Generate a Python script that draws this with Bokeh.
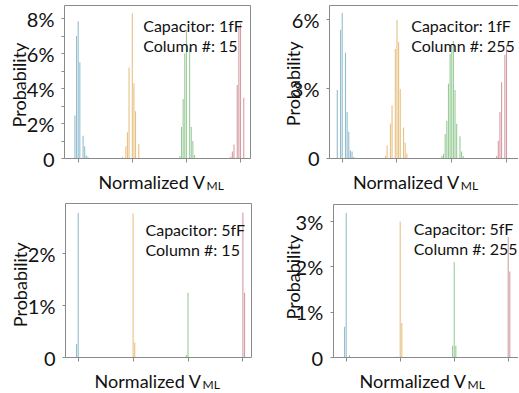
from math import pi
from bokeh.plotting import figure
from bokeh.models import Range1d, FixedTicker, Label, LinearAxis, ColumnDataSource
from bokeh.layouts import column, row
from bokeh.embed import file_html
from bokeh.resources import INLINE

# ---------------- data (probability in %, per histogram bin) ----------------
BIN_INDEX = list(range(-7, 8))   # bin index relative to each level centre
BIN_STEP = 0.03                  # bin spacing, in units of level spacing
LEVEL_POS = [0, 1, 2, 3]         # the four normalized V_ML levels
LEVEL_COLORS = ["#93bccf", "#e7c182", "#98cb96", "#d69ca2"]

# Capacitor 1fF, column 15
TL_L0 = [0, 0, 0, 0, 0, 2.46, 7.0, 7.85, 5.5, 0, 1.3, 0.7, 0.17, 0.08, 0]
TL_L1 = [0, 0.1, 0, 0.7, 1.5, 5.2, 0, 8.3, 4.3, 2.7, 0, 0.85, 0, 0, 0]
TL_L2 = [0, 0, 0, 0.15, 1.8, 3.4, 6.0, 7.35, 0, 6.3, 1.8, 1.0, 0.2, 0, 0]
TL_L3 = [0, 0.1, 0.4, 0.8, 0, 4.2, 7.55, 7.7, 0, 3.47, 0, 0, 0, 0, 0]
# Capacitor 1fF, column 255
TR_L0 = [0, 0, 0, 0, 2.95, 0, 5.56, 6.29, 0, 4.57, 2.0, 1.14, 0.33, 0.29, 0.05]
TR_L1 = [0.11, 0.55, 0, 1.49, 2.29, 0, 4.73, 5.99, 5.02, 3.0, 0, 1.33, 0.67, 0.19, 0]
TR_L2 = [0, 0.1, 0.19, 1.05, 1.62, 3.22, 4.51, 4.88, 5.07, 2.95, 1.49, 0, 0.95, 0.29, 0.1]
TR_L3 = [0, 0.1, 0.76, 2.0, 3.29, 0, 4.48, 4.88, 0, 0, 0, 0, 0, 0, 0]
# Capacitor 5fF, column 15
BL_L0 = [0, 0, 0, 0, 0, 0, 0.26, 2.79, 0, 0, 0, 0, 0, 0, 0]
BL_L1 = [0, 0, 0, 0, 0, 0, 0, 2.78, 0.29, 0, 0, 0, 0, 0, 0]
BL_L2 = [0, 0, 0, 0, 0, 0, 0.05, 1.25, 0, 0, 0, 0, 0, 0, 0]
BL_L3 = [0, 0, 0, 0, 0, 0, 0, 2.80, 1.25, 0, 0, 0, 0, 0, 0]
# Capacitor 5fF, column 255
BR_L0 = [0, 0, 0, 0, 0, 0, 0.68, 3.19, 0, 0.05, 0, 0, 0, 0, 0]
BR_L1 = [0, 0, 0, 0, 0, 0.03, 0, 3.0, 0.76, 0, 0, 0, 0, 0, 0]
BR_L2 = [0, 0, 0, 0, 0, 0, 0.26, 2.1, 0.26, 0, 0, 0, 0, 0, 0]
BR_L3 = [0, 0, 0, 0, 0, 0, 0, 2.66, 1.9, 0, 0, 0, 0, 0, 0]

TL_YTICKS, TL_YMINOR = [0, 2, 4, 6, 8], [1, 3, 5, 7]
TR_YTICKS, TR_YMINOR = [0, 3, 6], []
BL_YTICKS, BL_YMINOR = [0, 1, 2], []
BR_YTICKS, BR_YMINOR = [0, 1, 2, 3], []

TL_TEXT = ["Capacitor: 1fF", "Column #: 15"]
TR_TEXT = ["Capacitor: 1fF", "Column #: 255"]
BL_TEXT = ["Capacitor: 5fF", "Column #: 15"]
BR_TEXT = ["Capacitor: 5fF", "Column #: 255"]

FONT = "Lato"
AX = "#8a8a8a"
TXT = "#111111"


def pct(v):
    return "0" if v == 0 else f"{v}%"


def panel(levels, yticks, yminor, texts, W, H, g):
    """g: pixel geometry of the panel inside its canvas (layout only)."""
    x0, xu, z0, yu = g["x0"], g["xu"], g["zero"], g["yu"]

    def dx(px):
        return (px - x0) / xu

    def dy(py):
        return (z0 - py) / yu

    p = figure(width=W, height=H, output_backend="svg", toolbar_location=None,
               x_range=Range1d(dx(0), dx(W)), y_range=Range1d(dy(H), dy(0)),
               x_axis_location=None, y_axis_location=None,
               min_border_left=0, min_border_right=0,
               min_border_top=0, min_border_bottom=0,
               background_fill_color="white", border_fill_color="white")
    p.grid.visible = False
    p.outline_line_color = None

    for lvl, data, color in zip(LEVEL_POS, levels, LEVEL_COLORS):
        xs = [lvl + k * BIN_STEP for k, v in zip(BIN_INDEX, data) if v > 0]
        ys = [v for v in data if v > 0]
        src = ColumnDataSource(dict(x=xs, top=ys))
        p.vbar(x="x", top="top", bottom=0, width=0.02, source=src,
               fill_color=color, line_color=None)

    bx0 = dx(g["left"])
    bx1 = dx(g["right"]) if g["right"] is not None else dx(W)
    by1 = dy(g["top"])

    # bottom axis (at 0), ticks at the level centres, no labels
    xa = LinearAxis(fixed_location=0, bounds=(bx0, bx1),
                    ticker=FixedTicker(ticks=LEVEL_POS, minor_ticks=[]),
                    major_label_overrides={v: "" for v in LEVEL_POS},
                    major_label_text_font_size="1px",
                    axis_line_color=AX, major_tick_line_color=AX,
                    minor_tick_line_color=None,
                    major_tick_in=0, major_tick_out=4)
    p.add_layout(xa, "below")

    ya = LinearAxis(fixed_location=bx0, bounds=(0, by1),
                    ticker=FixedTicker(ticks=yticks, minor_ticks=yminor),
                    major_label_overrides={v: pct(v) for v in yticks},
                    major_label_text_font=FONT, major_label_text_font_size="20px",
                    major_label_text_color=TXT, major_label_standoff=7,
                    axis_line_color=AX, major_tick_line_color=AX,
                    minor_tick_line_color=AX,
                    major_tick_in=0, major_tick_out=3,
                    minor_tick_in=0, minor_tick_out=3)
    p.add_layout(ya, "left")

    top = LinearAxis(fixed_location=by1, bounds=(bx0, bx1),
                     ticker=FixedTicker(ticks=[], minor_ticks=[]),
                     axis_line_color=AX, major_tick_line_color=None,
                     minor_tick_line_color=None, major_label_text_font_size="1px")
    p.add_layout(top, "above")
    if g["right"] is not None:
        rgt = LinearAxis(fixed_location=bx1, bounds=(0, by1),
                         ticker=FixedTicker(ticks=[], minor_ticks=[]),
                         axis_line_color=AX, major_tick_line_color=None,
                         minor_tick_line_color=None, major_label_text_font_size="1px")
        p.add_layout(rgt, "right")

    cx, cy = g["ylab"]
    p.add_layout(Label(x=dx(cx), y=dy(cy), text="Probability", angle=pi / 2,
                       text_align="center", text_baseline="middle", text_font=FONT,
                       text_font_size="18px", text_color=TXT))
    vx, vb = g["xlab"]
    p.add_layout(Label(x=dx(vx), y=dy(vb), text="Normalized V", text_align="right",
                       text_baseline="alphabetic", text_font=FONT,
                       text_font_size="18px", text_color=TXT))
    p.add_layout(Label(x=dx(vx + 1), y=dy(vb + 3.5), text="ML", text_align="left",
                       text_baseline="alphabetic", text_font=FONT,
                       text_font_size="12px", text_color=TXT))
    tx, tb = g["text"]
    for i, t in enumerate(texts):
        p.add_layout(Label(x=dx(tx), y=dy(tb + 20 * i), text=t, text_align="left",
                           text_baseline="alphabetic", text_font=FONT,
                           text_font_size="16px", text_color=TXT))
    return p


W_L, W_R, H_T, H_B = 260, 258, 196, 196

tl = panel([TL_L0, TL_L1, TL_L2, TL_L3], TL_YTICKS, TL_YMINOR, TL_TEXT, W_L, H_T,
           dict(x0=77.7, xu=54.1, zero=158, yu=17.5, left=64, right=250, top=5,
                ylab=(18.5, 84.5), xlab=(205, 181.7), text=(142.7, 25)))
tr = panel([TR_L0, TR_L1, TR_L2, TR_L3], TR_YTICKS, TR_YMINOR, TR_TEXT, W_R, H_T,
           dict(x0=81.7, xu=54.77, zero=157.7, yu=23.1, left=69, right=None, top=5,
                ylab=(32.2, 83.3), xlab=(199.3, 181.7), text=(150.7, 25)))
bl_ = panel([BL_L0, BL_L1, BL_L2, BL_L3], BL_YTICKS, BL_YMINOR, BL_TEXT, W_L, H_B,
            dict(x0=77.7, xu=54.9, zero=161, yu=51.8, left=65, right=251, top=7.3,
                 ylab=(19.7, 88.3), xlab=(201, 184.5), text=(145, 32.7)))
br_ = panel([BR_L0, BR_L1, BR_L2, BR_L3], BR_YTICKS, BR_YMINOR, BR_TEXT, W_R, H_B,
            dict(x0=85.7, xu=54.0, zero=161, yu=45.3, left=72.7, right=None, top=8.3,
                 ylab=(32.5, 80.5), xlab=(206, 184.5), text=(153.3, 31.7)))

layout = column(row(tl, tr), row(bl_, br_))

open("out.html", "w").write(file_html(layout, INLINE))
